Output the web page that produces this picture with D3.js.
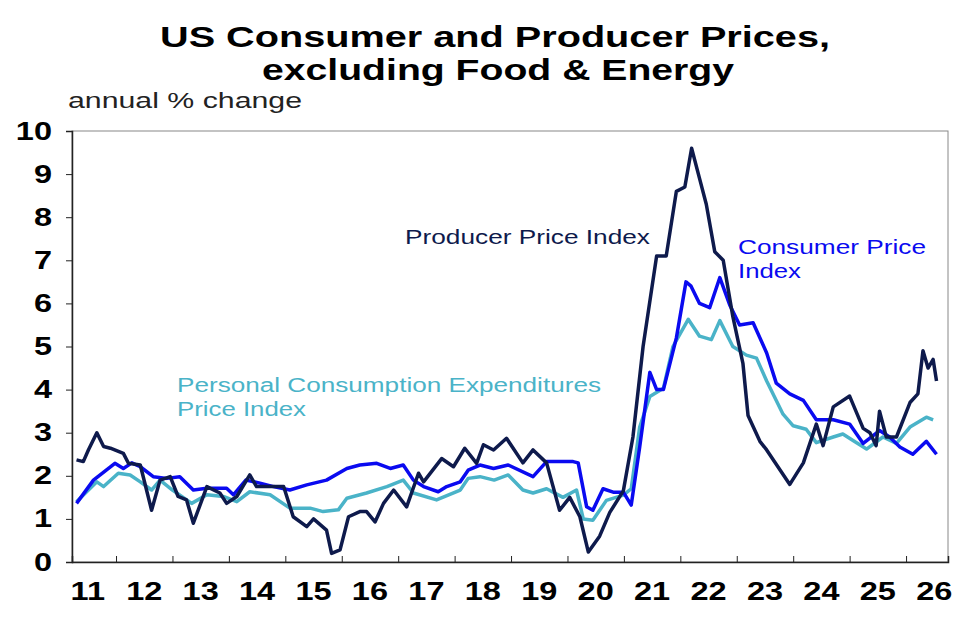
<!DOCTYPE html>
<html><head><meta charset="utf-8">
<script src="https://cdn.jsdelivr.net/npm/d3@7"></script>
<style>body{margin:0;background:#fff}svg{font-family:Arial,"Liberation Sans",sans-serif}</style>
</head><body><svg id="c" width="980" height="617"></svg>
<script>
const yearTicks = ["11","12","13","14","15","16","17","18","19","20","21","22","23","24","25","26"];
const yTicks = [0,1,2,3,4,5,6,7,8,9,10];

const ppiDates = [2011.3,2011.42,2011.51,2011.66,2011.78,2011.9,2012.13,2012.22,2012.43,2012.63,2012.78,2012.96,2013.1,2013.25,2013.37,2013.61,2013.84,2013.96,2014.14,2014.37,2014.49,2014.73,2014.97,2015.14,2015.38,2015.5,2015.73,2015.82,2015.97,2016.12,2016.32,2016.44,2016.59,2016.74,2016.92,2017.15,2017.36,2017.45,2017.77,2017.98,2018.18,2018.39,2018.51,2018.69,2018.92,2019.21,2019.39,2019.63,2019.86,2020.04,2020.22,2020.37,2020.57,2020.75,2020.99,2021.16,2021.34,2021.58,2021.75,2021.93,2022.08,2022.2,2022.34,2022.46,2022.61,2022.76,2022.93,2023.11,2023.2,2023.41,2023.53,2023.94,2024.18,2024.41,2024.53,2024.71,2025.0,2025.24,2025.36,2025.47,2025.53,2025.65,2025.83,2026.07,2026.21,2026.3,2026.39,2026.48,2026.54];
const ppiValues = [2.37,2.33,2.6,3.0,2.68,2.64,2.52,2.29,2.25,1.2,1.9,1.98,1.52,1.44,0.9,1.75,1.6,1.36,1.52,2.02,1.75,1.75,1.75,1.05,0.82,1.0,0.74,0.2,0.28,1.05,1.17,1.17,0.93,1.36,1.67,1.28,2.06,1.86,2.4,2.21,2.64,2.29,2.72,2.6,2.87,2.3,2.6,2.3,1.2,1.5,1.05,0.23,0.6,1.15,1.65,2.9,5.0,7.1,7.1,8.6,8.7,9.6,8.9,8.3,7.2,7.0,5.7,4.6,3.4,2.8,2.6,1.8,2.3,3.2,2.7,3.6,3.85,3.1,3.0,2.7,3.5,2.9,2.9,3.7,3.9,4.9,4.5,4.7,4.2];

const cpiDates = [2011.3,2011.6,2011.98,2012.13,2012.28,2012.43,2012.66,2012.9,2013.13,2013.37,2013.61,2013.96,2014.08,2014.3,2014.55,2014.79,2015.08,2015.38,2015.73,2016.09,2016.32,2016.62,2016.86,2017.09,2017.27,2017.45,2017.71,2017.86,2018.1,2018.24,2018.45,2018.69,2018.95,2019.39,2019.63,2020.1,2020.19,2020.34,2020.45,2020.63,2020.81,2020.99,2021.13,2021.28,2021.46,2021.58,2021.7,2021.93,2022.1,2022.19,2022.34,2022.52,2022.7,2022.88,2023.05,2023.29,2023.53,2023.7,2023.94,2024.18,2024.41,2024.71,2025.0,2025.24,2025.53,2025.71,2025.89,2026.12,2026.36,2026.54];
const cpiValues = [1.36,1.9,2.29,2.17,2.3,2.21,1.98,1.94,1.98,1.67,1.71,1.71,1.56,1.9,1.83,1.75,1.67,1.79,1.9,2.17,2.25,2.29,2.17,2.25,1.9,1.75,1.63,1.75,1.86,2.13,2.25,2.17,2.25,1.98,2.33,2.33,2.3,1.28,1.2,1.7,1.62,1.62,1.32,2.67,4.4,4.0,4.0,5.2,6.5,6.4,6.0,5.9,6.6,5.95,5.5,5.55,4.85,4.15,3.9,3.75,3.3,3.3,3.2,2.75,3.05,2.9,2.67,2.5,2.8,2.5];

const pceDates = [2011.3,2011.66,2011.78,2012.04,2012.25,2012.43,2012.63,2012.78,2013.0,2013.34,2013.61,2013.9,2014.14,2014.37,2014.73,2015.08,2015.44,2015.67,2015.94,2016.09,2016.44,2016.8,2017.09,2017.27,2017.68,2018.1,2018.24,2018.45,2018.7,2018.95,2019.21,2019.39,2019.63,2019.92,2020.16,2020.28,2020.45,2020.69,2020.99,2021.13,2021.28,2021.46,2021.7,2021.87,2022.14,2022.34,2022.55,2022.7,2022.93,2023.17,2023.35,2023.53,2023.82,2024.0,2024.23,2024.41,2024.71,2024.88,2025.06,2025.3,2025.59,2025.83,2026.07,2026.36,2026.48];
const pceValues = [1.4,1.86,1.75,2.06,2.02,1.86,1.67,1.9,1.67,1.36,1.56,1.52,1.4,1.63,1.56,1.25,1.25,1.17,1.21,1.48,1.6,1.75,1.9,1.6,1.44,1.67,1.94,1.98,1.9,2.02,1.67,1.6,1.7,1.5,1.67,1.0,0.97,1.43,1.55,1.7,3.13,3.84,4.03,5.0,5.63,5.24,5.16,5.6,5.0,4.8,4.73,4.2,3.43,3.16,3.08,2.77,2.9,2.97,2.82,2.62,2.9,2.75,3.13,3.36,3.3];

const svg = d3.select("#c");
const L = 72, R = 948, T = 131, B = 562;
const x = d3.scaleLinear().domain([2011 + (72 - 59.6) / 56.43, 2011 + (948 - 59.6) / 56.43]).range([L, R]);
const y = d3.scaleLinear().domain([0, 10]).range([B, T]);
const stretch = (sel, k) => sel.each(function () {
  const w = this.getComputedTextLength();
  d3.select(this).attr("textLength", w * k).attr("lengthAdjust", "spacingAndGlyphs");
});

svg.append("rect").attr("x", L).attr("y", T).attr("width", R - L).attr("height", B - T)
  .attr("fill", "none").attr("stroke", "#888").attr("stroke-width", 1);

const ya = svg.append("g").attr("transform", `translate(${L},0)`)
  .call(d3.axisLeft(y).tickValues(yTicks).tickSize(6).tickPadding(14).tickFormat(d3.format("d")));
ya.select(".domain").attr("stroke", "#222").attr("stroke-width", 1.5);
ya.selectAll("line").attr("stroke", "#222");
ya.selectAll("text").attr("font-size", 25).attr("font-weight", "bold").attr("fill", "#000").attr("font-family", "Arial, Liberation Sans");
stretch(ya.selectAll("text"), 1.3);

const tickYears = d3.range(2012, 2027);
const xa = svg.append("g").attr("transform", `translate(0,${B})`)
  .call(d3.axisBottom(x).tickValues(tickYears).tickSize(-6).tickFormat(""));
xa.select(".domain").attr("stroke", "#222").attr("stroke-width", 1.5);
xa.selectAll("line").attr("stroke", "#222");
const xl = svg.append("g").selectAll("text").data(yearTicks).join("text")
  .attr("x", (d, i) => x(2011.5 + i)).attr("y", 600).attr("text-anchor", "middle")
  .attr("font-size", 25).attr("font-weight", "bold").attr("fill", "#000").text(d => d);
stretch(xl, 1.3);

const line = d3.line().x(d => x(d[0])).y(d => y(d[1]));
const series = [
  {dates: pceDates, vals: pceValues, color: "#4ab3c8"},
  {dates: cpiDates, vals: cpiValues, color: "#0a0af0"},
  {dates: ppiDates, vals: ppiValues, color: "#0e1a4c"}
];
series.forEach(s => {
  svg.append("path").datum(s.dates.map((d, i) => [d, s.vals[i]]))
    .attr("d", line).attr("fill", "none").attr("stroke", s.color)
    .attr("stroke-width", 3.5).attr("stroke-linejoin", "round");
});

const t = svg.append("text").attr("text-anchor", "middle").attr("font-size", 30).attr("font-weight", "bold").attr("fill", "#000");
t.append("tspan").attr("x", 495).attr("y", 47).attr("textLength", 670).attr("lengthAdjust", "spacingAndGlyphs").text("US Consumer and Producer Prices,");
t.append("tspan").attr("x", 498).attr("y", 80).attr("textLength", 472).attr("lengthAdjust", "spacingAndGlyphs").text("excluding Food & Energy");
svg.append("text").attr("x", 68).attr("y", 108).attr("font-size", 22).attr("fill", "#222")
  .attr("textLength", 234).attr("lengthAdjust", "spacingAndGlyphs").text("annual % change");

svg.append("text").attr("x", 405).attr("y", 244).attr("font-size", 20).attr("fill", "#0e1a4c")
  .attr("textLength", 245).attr("lengthAdjust", "spacingAndGlyphs").text("Producer Price Index");
const c = svg.append("text").attr("font-size", 20).attr("fill", "#0a0af0");
c.append("tspan").attr("x", 738).attr("y", 254).attr("textLength", 188).attr("lengthAdjust", "spacingAndGlyphs").text("Consumer Price");
c.append("tspan").attr("x", 738).attr("y", 278).attr("textLength", 63).attr("lengthAdjust", "spacingAndGlyphs").text("Index");
const p = svg.append("text").attr("font-size", 20).attr("fill", "#4ab3c8");
p.append("tspan").attr("x", 177).attr("y", 392).attr("textLength", 424).attr("lengthAdjust", "spacingAndGlyphs").text("Personal Consumption Expenditures");
p.append("tspan").attr("x", 177).attr("y", 416).attr("textLength", 129).attr("lengthAdjust", "spacingAndGlyphs").text("Price Index");
</script></body></html>
